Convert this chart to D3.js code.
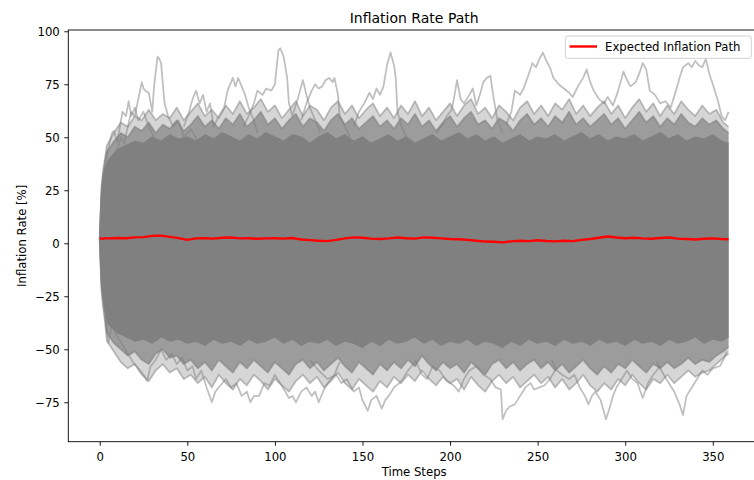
<!DOCTYPE html>
<html><head><meta charset="utf-8">
<script src="https://cdn.jsdelivr.net/npm/d3@7"></script>
<style>html,body{margin:0;padding:0;background:#fff;overflow:hidden}svg{display:block;font-family:"DejaVu Sans",sans-serif}</style>
</head><body><svg id="c" width="754" height="480"></svg>
<script>
// ---- data ----
const timeSteps = [0,1,2,3,5,10,15,20,25,30,35,40,45,50,55,60,65,70,75,80,85,90,95,100,105,110,115,120,125,130,135,140,145,150,155,160,165,170,175,180,185,190,195,200,205,210,215,220,225,230,235,240,245,250,255,260,265,270,275,280,285,290,295,300,305,310,315,320,325,330,335,340,345,350,355,359];
// dense core of the simulated paths (upper / lower envelope)
const coreUpper = [2,22,30,35, 39,44,46,48,47,50,48,51,49,50, 48,51,49,52,50,48,51,49,52,50, 48,51,50,47,50,52,49,51,48,50, 47,49,51,48,50,47,49,51,48,50, 52,49,51,48,50,47,49,51,48,50, 49,51,48,50,52,49,51,48,50,49, 51,48,50,52,49,51,48,50,49,51, 48,47];
const coreLower = [2,-18,-25,-31, -38,-42,-44,-46,-45,-47,-44,-46,-45,-47, -46,-48,-45,-47,-46,-48,-45,-47,-46,-44, -47,-45,-48,-46,-47,-45,-48,-46,-47,-49, -46,-48,-45,-47,-46,-44,-47,-45,-48,-46, -47,-45,-48,-46,-47,-49,-46,-48,-45,-47, -46,-48,-45,-47,-46,-48,-45,-47,-46,-48, -45,-47,-46,-48,-45,-47,-46,-44,-47,-45, -46,-44];
// fringe of the path bundle, on a finer time grid
const fringeSteps = [0,1,2,3, 4,8,12,16,20,24,28,32,36,40, 44,48,52,56,60,64,68,72,76,80, 84,88,92,96,100,104,108,112,116,120, 124,128,132,136,140,144,148,152,156,160, 164,168,172,176,180,184,188,192,196,200, 204,208,212,216,220,224,228,232,236,240, 244,248,252,256,260,264,268,272,276,280, 284,288,292,296,300,304,308,312,316,320, 324,328,332,336,340,344,348,352,356, 359];
const innerUpper = [2,25,33,38, 43,48,52,50,55,53,57,52,56,54, 58,53,56,60,55,58,54,59,56,61, 55,58,62,56,59,54,58,61,55,59, 57,53,58,61,56,59,54,57,60,55, 58,54,59,56,61,55,58,53,57,60, 55,59,62,56,58,54,59,57,53,58, 61,56,59,55,60,57,62,56,59,55, 58,61,56,59,54,58,62,57,60,55, 59,56,61,57,55,59,56,58,54, 52];
const outerUpper = [2,27,35,40, 46,52,57,55,60,58,63,58,61,59, 64,58,62,66,60,63,59,65,61,67, 61,64,68,62,65,59,63,67,60,65, 63,58,64,67,61,65,59,63,66,60, 64,59,65,61,67,60,64,58,62,66, 60,65,68,61,64,59,65,62,58,64, 67,61,65,60,66,63,68,61,65,60, 64,67,61,65,59,64,68,62,66,60, 65,61,67,63,60,65,61,63,57, 55];
const innerLower = [2,-20,-28,-34, -42,-47,-50,-53,-51,-55,-57,-52,-50,-54, -53,-57,-55,-59,-56,-60,-55,-58,-61,-56, -59,-55,-58,-61,-56,-59,-62,-57,-55,-59, -56,-60,-57,-54,-58,-61,-56,-59,-62,-57, -60,-56,-59,-55,-58,-53,-57,-60,-56,-59, -57,-61,-56,-59,-62,-57,-55,-59,-56,-60, -57,-55,-59,-56,-60,-57,-61,-58,-55,-59, -62,-58,-61,-57,-59,-55,-58,-61,-57,-59, -56,-59,-57,-54,-57,-55,-56,-53,-51, -49];
const outerLower = [2,-23,-31,-37, -46,-51,-56,-59,-57,-62,-65,-60,-57,-61, -59,-64,-62,-66,-63,-68,-62,-66,-69,-64, -67,-62,-65,-69,-64,-67,-70,-65,-62,-66, -63,-68,-65,-61,-66,-69,-64,-67,-70,-65, -68,-63,-66,-62,-65,-60,-64,-67,-63,-66, -64,-69,-63,-67,-70,-65,-62,-66,-63,-68, -65,-62,-66,-63,-68,-64,-69,-66,-62,-67, -70,-66,-69,-64,-67,-62,-66,-69,-64,-66, -62,-66,-63,-60,-63,-61,-60,-57,-54, -52];
// expected (mean) inflation path
const expectedPath = [2.2,2.3,2.1,2.4, 2.3,2.5,2.4,2.8,2.9,3.5,3.6,3.0,2.4,1.6, 2.3,2.4,2.2,2.6,2.7,2.3,2.4,2.1,2.3,2.4, 2.2,2.5,1.8,1.5,1.2,1.0,1.6,2.3,2.8,2.6, 2.2,2.0,2.3,2.7,2.4,2.2,2.8,2.6,2.3,2.0, 1.9,1.6,1.2,0.8,0.7,0.4,0.9,1.2,1.0,1.4, 1.1,0.9,1.2,1.0,1.6,2.0,2.6,3.2,2.7,2.4, 2.6,2.3,2.1,2.5,2.7,2.2,2.0,1.8,2.1,2.3, 2.0,1.9];
// individually visible extreme paths [time step, rate]
const pathHighA = [[5,30],[8,38],[10,44],[12,50],[14,47],[16,55],[18,62],[20,60],[22,68],[24,76],[25,73],[26,72],[28,71],[30,62],[31,74],[33,88],[34,87],[35,85],[37,66],[39,60],[42,55],[45,58],[48,50],[52,54],[56,48]];
const pathHighB = [[3,38],[5,45],[7,52],[8,53],[10,48],[13,62],[15,60],[16.5,67],[18,60],[20,64],[22,58],[25,62],[28,55],[31,50]];
const pathHighC = [[48,55],[51,62],[53,68],[55,72],[57,66],[59,70],[61,62],[63,66],[65,55],[68,60],[71,64],[73,72],[75,76],[76,78],[77.5,74],[79,78],[81,74],[83,70],[85,64],[88,58],[90,52]];
const pathHighD = [[82,55],[85,60],[88,66],[90,72],[93,70],[95,73],[98,72],[100,75],[102,91],[103,92],[105,88],[107,78],[108,66],[110,60],[113,68],[116,77],[118,70],[120,64],[123,58],[126,52]];
const pathHighE = [[115,58],[118,66],[121,72],[123,75],[125,73],[127,74],[129,77],[131,78],[133,76],[134,78],[136,70],[137,60],[140,55],[143,50]];
const pathHighF = [[145,55],[148,62],[151,66],[154,71],[156,68],[158,73],[160,70],[162,74],[164,84],[166,90],[168,84],[169,78],[170,62],[172,56],[175,50]];
const pathHighG = [[192,52],[195,55],[198,60],[201,63],[203,72],[204,77],[206,68],[208,66],[211,70],[213,73],[215,65],[217,70],[219,76],[221,78],[223,79],[225,68],[227,58],[230,52]];
const pathHighH = [[232,56],[235,62],[237,72],[240,70],[242,73],[245,80],[247,85],[249,83],[251,87],[253,90],[255,86],[257,83],[259,78],[262,75],[265,73],[268,71],[270,69],[273,74],[276,78],[278,82],[280,76],[282,72],[285,68],[288,66],[290,69],[293,65],[296,72],[299,81],[301,77],[303,74],[306,76],[308,80],[310,85],[312,82],[314,72],[317,70],[320,66],[323,67],[326,64],[329,72],[331,78],[333,83],[336,85],[338,83],[340,86],[342,84],[344,83],[346,87],[348,80],[350,75],[353,67],[355,60],[357,58],[359,62]];
const pathLowA = [[3,-34],[5,-47],[7,-38],[10,-44],[13,-48],[16,-52],[19,-56],[22,-59],[25,-62],[27,-65],[29,-58],[32,-55],[35,-50],[38,-55],[41,-52],[44,-57],[47,-54],[50,-60],[53,-58],[55,-64],[58,-60],[61,-68],[64,-75],[66,-70],[69,-67],[72,-64],[75,-68],[78,-66],[81,-72],[84,-70],[86,-75],[88,-72],[91,-72],[94,-66],[97,-67],[100,-62],[103,-66],[106,-70],[108,-73],[110,-72],[112,-75],[115,-70],[118,-68],[121,-72],[123,-70],[125,-75],[128,-69],[131,-65],[134,-62],[137,-56]];
const pathLowB = [[120,-55],[125,-60],[130,-64],[135,-62],[138,-66],[141,-64],[145,-70],[148,-68],[150,-74],[153,-79],[155,-74],[158,-72],[161,-78],[163,-74],[165,-72],[168,-68],[171,-66],[173,-64],[176,-60],[180,-56]];
const pathLowC = [[180,-55],[184,-62],[187,-64],[190,-58],[194,-60],[198,-65],[202,-67],[205,-70],[208,-64],[211,-60],[215,-58],[219,-62],[223,-64],[226,-68],[229,-69],[230,-83],[232,-79],[234,-77],[237,-76],[240,-72],[243,-68],[246,-66],[248,-69],[251,-68],[254,-67],[257,-64],[260,-60]];
const pathLowD = [[258,-55],[261,-60],[264,-62],[268,-64],[271,-62],[274,-68],[277,-72],[279,-76],[281,-72],[283,-70],[286,-74],[289,-83],[291,-78],[293,-72],[295,-68],[298,-64],[301,-60],[304,-64],[307,-66],[310,-73],[313,-66],[316,-62],[320,-58]];
const pathLowE = [[318,-56],[322,-62],[325,-66],[328,-70],[331,-76],[333,-81],[335,-72],[338,-68],[341,-64],[344,-60],[347,-62],[350,-59],[354,-58],[356,-55],[358,-51]];
const xTicks = [0,50,100,150,200,250,300,350];
const yTicks = [-75,-50,-25,0,25,50,75,100];
const titleText = "Inflation Rate Path";
const xLabel = "Time Steps";
const yLabel = "Inflation Rate [%]";
const legendLabel = "Expected Inflation Path";

// ---- drawing ----
const svg = d3.select("#c");
const L = 68.3, R = 760, T = 30, B = 441.7;
const x = d3.scaleLinear().domain([-17.95, 376.95]).range([L, R]);
const y = d3.scaleLinear().domain([-93.6, 100.6]).range([B, T]);
const g = svg.append("g");

const area = (ts, lo, hi) => d3.area().x((d, i) => x(ts[i])).y0((d, i) => y(lo[i])).y1((d, i) => y(hi[i]))(ts);
const edge = (ts, arr) => d3.line().x((d, i) => x(ts[i])).y((d, i) => y(arr[i]))(ts);
const strokeEdge = (ts, arr, op) => g.append("path").attr("d", edge(ts, arr)).attr("fill", "none")
  .attr("stroke", "gray").attr("stroke-opacity", op).attr("stroke-width", 1.75).attr("stroke-linejoin", "round");

g.append("path").attr("d", area(fringeSteps, outerLower, outerUpper)).attr("fill", "gray").attr("fill-opacity", 0.32);
strokeEdge(fringeSteps, outerUpper, 0.5);
strokeEdge(fringeSteps, outerLower, 0.5);
g.append("path").attr("d", area(fringeSteps, innerLower, innerUpper)).attr("fill", "gray").attr("fill-opacity", 0.68);
strokeEdge(fringeSteps, innerUpper, 0.6);
strokeEdge(fringeSteps, innerLower, 0.6);
g.append("path").attr("d", area(timeSteps, coreLower, coreUpper)).attr("fill", "gray");
strokeEdge(timeSteps, coreUpper, 1);
strokeEdge(timeSteps, coreLower, 1);

const pline = d3.line().x(d => x(d[0])).y(d => y(d[1]));
[pathHighA, pathHighB, pathHighC, pathHighD, pathHighE, pathHighF, pathHighG, pathHighH,
 pathLowA, pathLowB, pathLowC, pathLowD, pathLowE].forEach(p =>
  g.append("path").attr("d", pline(p)).attr("fill", "none").attr("stroke", "gray")
   .attr("stroke-opacity", 0.5).attr("stroke-width", 1.75).attr("stroke-linejoin", "round"));

g.append("path").attr("d", edge(timeSteps, expectedPath)).attr("fill", "none").attr("stroke", "red")
  .attr("stroke-width", 2.4).attr("stroke-linejoin", "round");

// axes
const xa = svg.append("g").attr("transform", `translate(0,${B})`)
  .call(d3.axisBottom(x).tickValues(xTicks).tickSize(4).tickSizeOuter(0));
xa.select(".domain").remove();
xa.selectAll("text").attr("y", 19).attr("dy", 0).attr("font-size", "11.7px").attr("fill", "#000").attr("font-family", "DejaVu Sans");
xa.selectAll("line").attr("stroke", "#000").attr("stroke-width", 0.9);
const ya = svg.append("g").attr("transform", `translate(${L},0)`)
  .call(d3.axisLeft(y).tickValues(yTicks).tickSize(4).tickPadding(4.5).tickSizeOuter(0));
ya.select(".domain").remove();
ya.selectAll("text").attr("font-size", "11.7px").attr("fill", "#000").attr("font-family", "DejaVu Sans");
ya.selectAll("line").attr("stroke", "#000").attr("stroke-width", 0.9);

svg.append("rect").attr("x", L).attr("y", T).attr("width", R - L).attr("height", B - T)
  .attr("fill", "none").attr("stroke", "#000").attr("stroke-width", 0.9);

svg.append("text").attr("x", (L + R) / 2).attr("y", 22.7).attr("text-anchor", "middle")
  .attr("font-size", "14px").attr("fill", "#000").text(titleText);
svg.append("text").attr("x", (L + R) / 2).attr("y", 475.5).attr("text-anchor", "middle")
  .attr("font-size", "11.7px").attr("fill", "#000").text(xLabel);
svg.append("text").attr("transform", `translate(25.5,${(T + B) / 2}) rotate(-90)`).attr("text-anchor", "middle")
  .attr("font-size", "11.7px").attr("fill", "#000").text(yLabel);

// legend
const lg = svg.append("g");
lg.append("rect").attr("x", 565.3).attr("y", 36).attr("width", 186).attr("height", 22.3).attr("rx", 2.5)
  .attr("fill", "#fff").attr("fill-opacity", 0.8).attr("stroke", "#ccc").attr("stroke-width", 0.9);
lg.append("line").attr("x1", 569.5).attr("x2", 597).attr("y1", 46.5).attr("y2", 46.5)
  .attr("stroke", "red").attr("stroke-width", 2.4);
lg.append("text").attr("x", 605).attr("y", 50.8).attr("font-size", "11.7px").attr("fill", "#000").text(legendLabel);
</script></body></html>
